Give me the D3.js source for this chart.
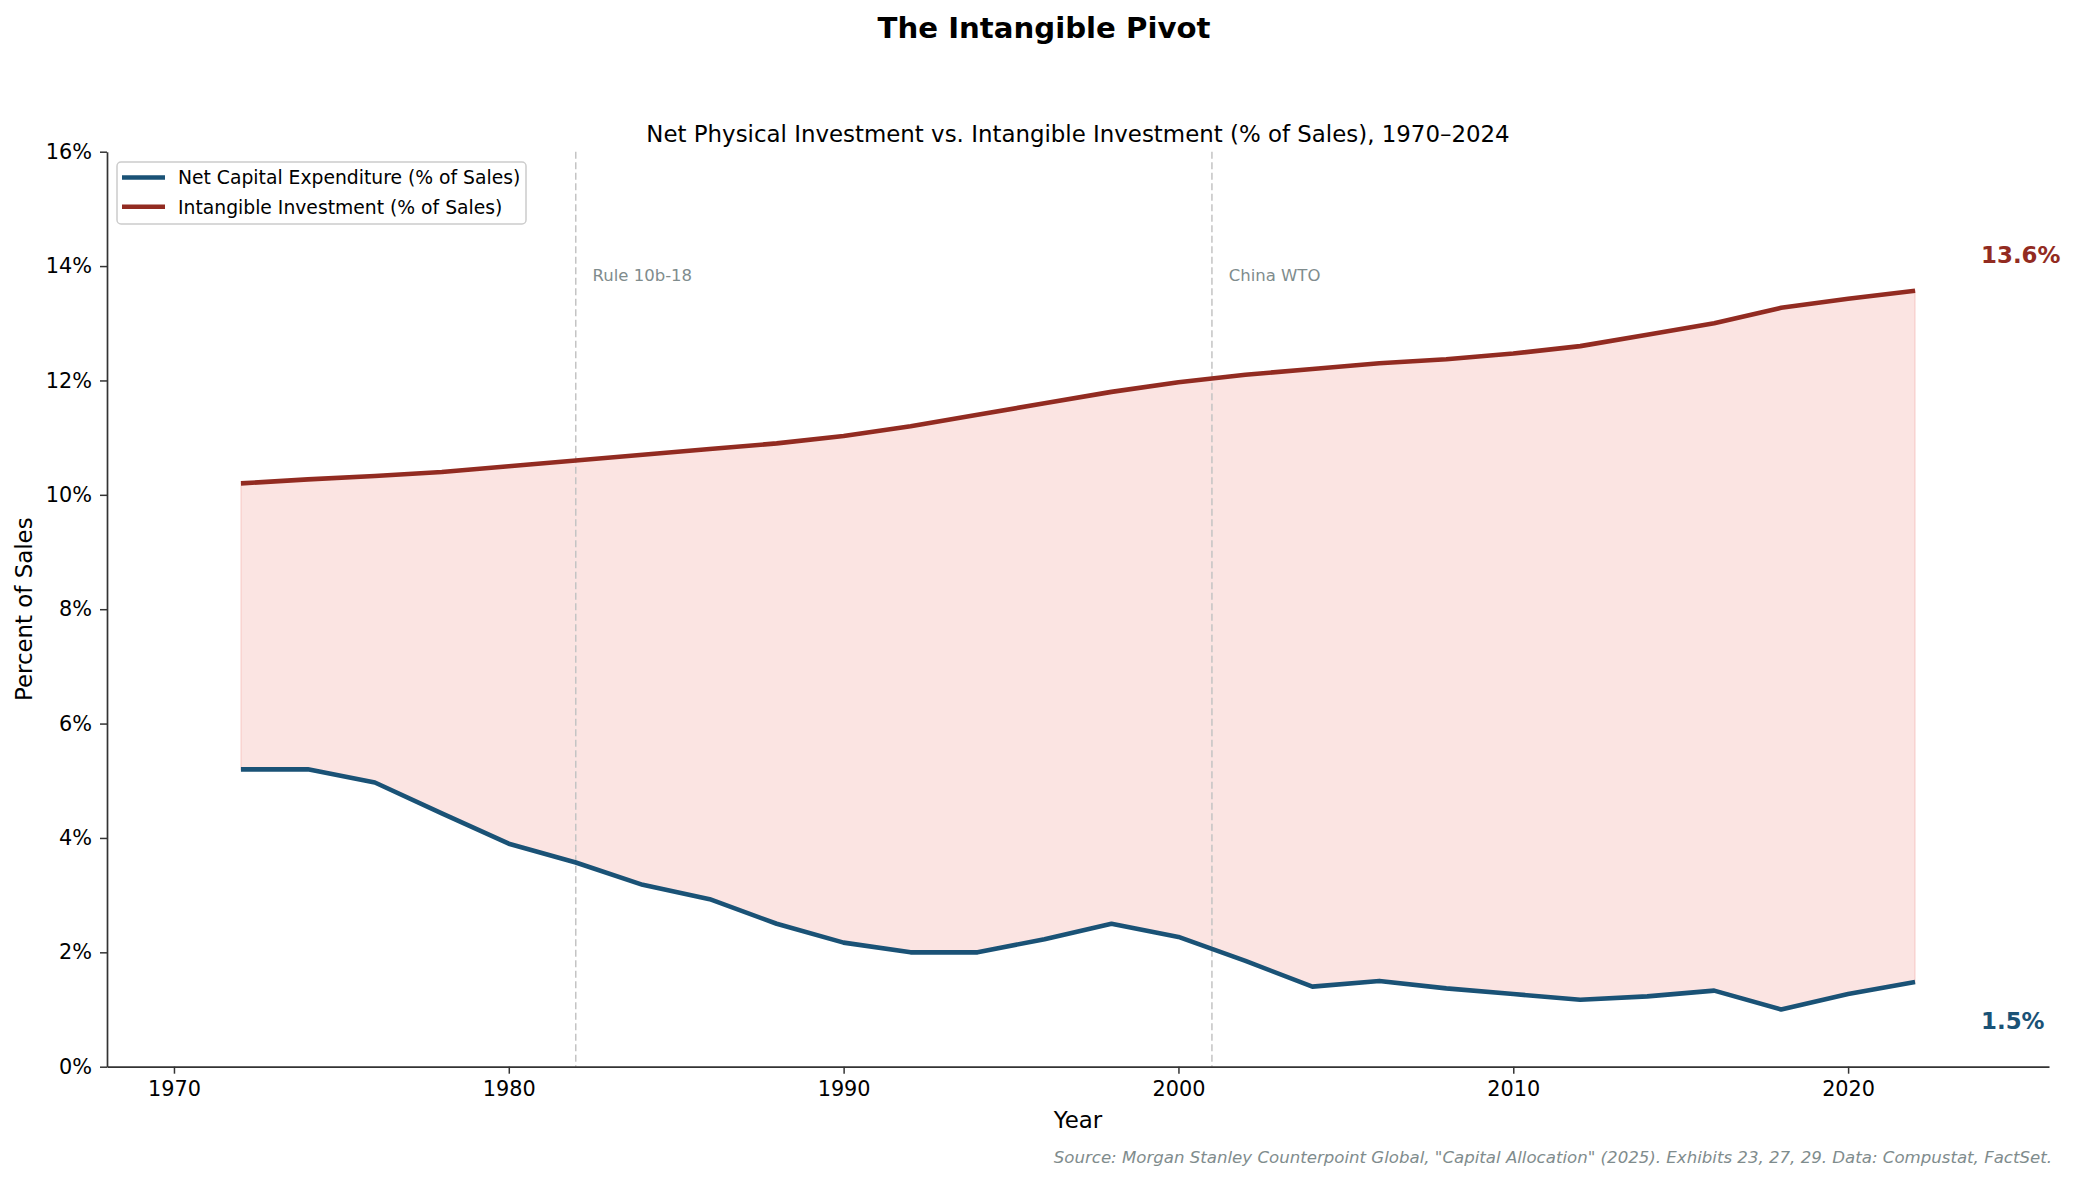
<!DOCTYPE html>
<html>
<head>
<meta charset="utf-8">
<script src="https://cdn.jsdelivr.net/npm/d3@7"></script>
<style>
  body { margin: 0; background: #fff; }
  text { font-family: 'DejaVu Sans', sans-serif; }
</style>
</head>
<body>
<svg id="chart"></svg>
<script>
var years = [1972, 1974, 1976, 1978, 1980, 1982, 1984, 1986, 1988, 1990, 1992, 1994, 1996,
             1998, 2000, 2002, 2004, 2006, 2008, 2010, 2012, 2014, 2016, 2018, 2020, 2022]
var netCapex = [5.2, 5.2, 4.97, 4.43, 3.9, 3.57, 3.18, 2.93, 2.5, 2.17, 2.0, 2.0, 2.23,
                2.5, 2.27, 1.85, 1.4, 1.5, 1.37, 1.27, 1.17, 1.23, 1.33, 1.0, 1.27, 1.48]
var intangible = [10.2, 10.27, 10.33, 10.4, 10.5, 10.6, 10.7, 10.8, 10.9, 11.03, 11.2, 11.4, 11.6,
                  11.8, 11.97, 12.1, 12.2, 12.3, 12.37, 12.47, 12.6, 12.8, 13.0, 13.27, 13.43, 13.57]
var events = [{year: 1982, label: 'Rule 10b-18'}, {year: 2001, label: 'China WTO'}]
var xTicks = [1970, 1980, 1990, 2000, 2010, 2020]
var yTicks = [0, 2, 4, 6, 8, 10, 12, 14, 16]

var W = 2075
var H = 1182
var m = {left: 107, right: 2049, top: 151.7, bottom: 1066.7}

var blue = '#1a5276'
var red = '#922b21'

var svg = d3.select('#chart').attr('width', W).attr('height', H)

var x = d3.scaleLinear().domain([1968, 2026]).range([m.left, m.right])
var y = d3.scaleLinear().domain([0, 16]).range([m.bottom, m.top])

var rows = years.map((yr, i) => ({year: yr, capex: netCapex[i], intang: intangible[i]}))

// shaded gap between the two series
svg.append('path')
    .datum(rows)
    .attr('d', d3.area().x(d => x(d.year)).y0(d => y(d.capex)).y1(d => y(d.intang)))
    .attr('fill', '#e74c3c')
    .attr('fill-opacity', 0.15)
    .attr('stroke', '#e74c3c')
    .attr('stroke-opacity', 0.15)
    .attr('stroke-width', 1.5)

// event markers
events.forEach(ev => {
  svg.append('line')
      .attr('x1', x(ev.year)).attr('x2', x(ev.year))
      .attr('y1', m.top).attr('y2', m.bottom)
      .attr('stroke', '#c4c4c4')
      .attr('stroke-width', 1.5)
      .attr('stroke-dasharray', '7,3.5')
  svg.append('text')
      .attr('x', x(ev.year + 0.5))
      .attr('y', y(14) + 15)
      .attr('font-size', 16.5)
      .attr('fill', '#7f8c8d')
      .text(ev.label)
})

var line = key => d3.line().x(d => x(d.year)).y(d => y(d[key]))

svg.append('path').datum(rows)
    .attr('d', line('intang'))
    .attr('fill', 'none').attr('stroke', red).attr('stroke-width', 4.6)
    .attr('stroke-linejoin', 'round')

svg.append('path').datum(rows)
    .attr('d', line('capex'))
    .attr('fill', 'none').attr('stroke', blue).attr('stroke-width', 4.6)
    .attr('stroke-linejoin', 'round')

// axes
var xAxis = svg.append('g')
    .attr('transform', `translate(0,${m.bottom})`)
    .call(d3.axisBottom(x).tickValues(xTicks).tickFormat(d3.format('d')).tickSize(7).tickSizeOuter(0).tickPadding(8))

var yAxis = svg.append('g')
    .attr('transform', `translate(${m.left},0)`)
    .call(d3.axisLeft(y).tickValues(yTicks).tickFormat(d => d + '%').tickSize(7).tickSizeOuter(0).tickPadding(8))

;[xAxis, yAxis].forEach(g => {
  g.select('.domain').attr('stroke', '#333').attr('stroke-width', 1.7)
  g.selectAll('.tick line').attr('stroke', '#333').attr('stroke-width', 1.5)
  g.selectAll('.tick text').attr('font-size', 20.8).attr('fill', '#000')
      .style('font-family', "'DejaVu Sans', sans-serif")
})

// end labels
var last = rows[rows.length - 1]
svg.append('text')
    .attr('x', x(2024) - 1).attr('y', y(last.intang) - 28)
    .attr('font-size', 22.9).attr('font-weight', 'bold').attr('fill', red)
    .text(d3.format('.1f')(last.intang) + '%')
svg.append('text')
    .attr('x', x(2024) - 1).attr('y', y(last.capex) + 47)
    .attr('font-size', 22.9).attr('font-weight', 'bold').attr('fill', blue)
    .text(d3.format('.1f')(last.capex) + '%')

// titles and labels
svg.append('text')
    .attr('x', 1044).attr('y', 38)
    .attr('text-anchor', 'middle')
    .attr('font-size', 29.2).attr('font-weight', 'bold')
    .text('The Intangible Pivot')

svg.append('text')
    .attr('x', (m.left + m.right) / 2).attr('y', 142)
    .attr('text-anchor', 'middle')
    .attr('font-size', 22.9)
    .text('Net Physical Investment vs. Intangible Investment (% of Sales), 1970–2024')

svg.append('text')
    .attr('x', (m.left + m.right) / 2).attr('y', 1128)
    .attr('text-anchor', 'middle')
    .attr('font-size', 22.9)
    .text('Year')

svg.append('text')
    .attr('transform', `translate(32,${(m.top + m.bottom) / 2}) rotate(-90)`)
    .attr('text-anchor', 'middle')
    .attr('font-size', 22.9)
    .text('Percent of Sales')

svg.append('text')
    .attr('x', 2052).attr('y', 1163)
    .attr('text-anchor', 'end')
    .attr('font-size', 16.6).attr('font-style', 'italic').attr('fill', '#7f8c8d')
    .text('Source: Morgan Stanley Counterpoint Global, "Capital Allocation" (2025). Exhibits 23, 27, 29. Data: Compustat, FactSet.')

// legend
var legend = svg.append('g')
legend.append('rect')
    .attr('x', 117).attr('y', 162).attr('width', 409).attr('height', 62)
    .attr('rx', 4)
    .attr('fill', '#fff').attr('fill-opacity', 0.8)
    .attr('stroke', '#cccccc').attr('stroke-width', 1.5)

var items = [{label: 'Net Capital Expenditure (% of Sales)', color: blue},
             {label: 'Intangible Investment (% of Sales)', color: red}]
items.forEach((it, i) => {
  var cy = 177.5 + i * 29.3
  legend.append('line')
      .attr('x1', 122).attr('x2', 165).attr('y1', cy).attr('y2', cy)
      .attr('stroke', it.color).attr('stroke-width', 4.6)
  legend.append('text')
      .attr('x', 178).attr('y', cy + 6.8)
      .attr('font-size', 18.75)
      .text(it.label)
})
</script>
</body>
</html>
